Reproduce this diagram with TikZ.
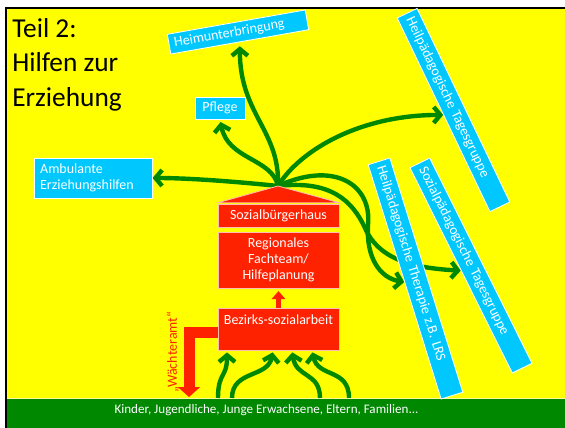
\documentclass[tikz,border=0pt]{standalone}
\usepackage{fontspec}
\setmainfont{Carlito}
\usetikzlibrary{arrows.meta}
\definecolor{slideYellow}{RGB}{255,255,0}
\definecolor{barGreen}{RGB}{0,136,0}
\definecolor{flowGreen}{RGB}{0,136,0}
\definecolor{boxBlue}{RGB}{0,200,255}
\definecolor{boxRed}{RGB}{255,34,0}
\definecolor{boxEdge}{RGB}{255,190,180}
\pgfdeclarelayer{back}
\pgfdeclarelayer{flows}
\pgfsetlayers{back,flows,main}

\begin{document}
\begin{tikzpicture}[x=0.75pt, y=-0.75pt,
    blueBox/.style={fill=boxBlue, draw=white, line width=0.6pt, text=white, font=\fontsize{10.5}{12}\selectfont, inner xsep=4pt, inner ysep=0pt, align=left},
    redBox/.style={fill=boxRed, draw=boxEdge, line width=0.6pt, text=white, font=\fontsize{10.5}{12}\selectfont, minimum width=90.75pt, inner sep=0pt, align=center},
    flow/.style={draw=flowGreen, line width=3.3pt, -{Straight Barb[length=5pt,width=12pt]}},
    upArrow/.style={draw=boxRed, line width=3.75pt, -{Triangle[length=6pt,width=10pt]}, shorten >=2pt},
    guardArrow/.style={draw=boxRed, line width=8.25pt, line join=miter, -{Triangle[length=7.5pt,width=16.5pt]}}]
  \useasboundingbox (0,0) rectangle (565,428);
  \begin{pgfonlayer}{back}
    \fill[white] (0,0) rectangle (565,428);
    \fill[slideYellow] (7,8) rectangle (565,398);
    \fill[barGreen] (7,398) rectangle (565,428);
    \draw[white!60!yellow, line width=0.5pt] (7,398) -- (565,398);
    \draw[black, line width=2pt] (6,428) -- (6,8) -- (565,8);
  \end{pgfonlayer}

  \node[anchor=north west, align=left, inner sep=0pt, font=\fontsize{20.5}{26}\selectfont] (title) at (12,18) {Teil 2:\\Hilfen zur\\Erziehung};
  \node[text=white, font=\fontsize{9.8}{11}\selectfont] (kinder) at (266.5,410) {Kinder, Jugendliche, Junge Erwachsene, Eltern, Familien...};

  \node[blueBox, text width=97pt, minimum height=15pt, rotate=10] (heim) at (238,32) {Heimunterbringung};
  \node[blueBox, minimum width=37.5pt, minimum height=16.5pt, inner xsep=0pt, align=center] (pflege) at (220,108) {Pflege};
  \node[blueBox, text width=80pt, minimum height=30pt] (ambulant) at (93.5,178) {Ambulante\\Erziehungshilfen};
  \node[blueBox, text width=153pt, minimum height=16.5pt, rotate=-64.4] (hptg) at (453.5,110) {Heilpädagogische Tagesgruppe};
  \node[blueBox, text width=176pt, minimum height=17pt, rotate=-72.7] (hpth) at (415.5,278.5) {Heilpädagogische Therapie z.B. LRS};
  \node[blueBox, text width=164pt, minimum height=16.5pt, rotate=-63.5] (sptg) at (471,265.5) {Sozialpädagogische Tagesgruppe};

  \node[redBox, minimum height=17.25pt] (sbh) at (278.5,215.5) {Sozialbürgerhaus};
  \node[redBox, minimum height=42pt] (regional) at (278.5,260) {Regionales\\Fachteam/\\Hilfeplanung};
  \node[redBox, inner ysep=4pt, text height=8.75pt, text depth=14.75pt] (bezirks) at (278.5,329) {Bezirks-sozialarbeit};
  \coordinate (apex) at (278,186);
  \filldraw[fill=boxRed, draw=boxEdge, line width=0.6pt] ([yshift=0.6pt]sbh.north west) -- (apex) -- ([yshift=0.6pt]sbh.north east) -- cycle;

  \node[text=boxRed, rotate=90, font=\fontsize{10.5}{12}\selectfont] (waechter) at (173,352) {„Wächteramt“};
  \coordinate (guardEnd) at (189,397);
  \coordinate (k1) at (218,398);
  \coordinate (k2) at (232,398);
  \coordinate (k3) at (320,398);
  \coordinate (k4) at (349,398);

  \begin{pgfonlayer}{flows}
    \draw[flow, shorten >=3pt] (apex) .. controls (280,130) and (240,115) .. (heim.south);
    \draw[flow, shorten >=2pt] (apex) .. controls (272,158) and (228,160) .. (pflege.south);
    \draw[flow] (apex) .. controls (240,182) and (190,178) .. (ambulant.east);
    \draw[flow] (apex) .. controls (300,150) and (360,115) .. (hptg.south);
    \draw[flow] (apex) .. controls (335,160) and (372,185) .. (368,225) .. controls (366,258) and (380,278) .. (hpth.south);
    \draw[flow] (apex) .. controls (330,180) and (352,200) .. (365,228) .. controls (378,258) and (410,268) .. (sptg.south);
    \draw[flow, shorten >=1.5pt] (k1) .. controls (218,372) and (227,378) .. ([shift={(-51.5,0)}]bezirks.south);
    \draw[flow, shorten >=1.5pt] (k2) .. controls (232,370) and (268,378) .. ([shift={(-5.5,0)}]bezirks.south);
    \draw[flow, shorten >=1.5pt] (k3) .. controls (320,372) and (296,378) .. ([shift={(13.5,0)}]bezirks.south);
    \draw[flow, shorten >=1.5pt] (k4) .. controls (349,368) and (318,378) .. ([shift={(33.5,0)}]bezirks.south);
    \draw[upArrow] (bezirks.north) -- (regional.south);
    \draw[guardArrow] ([shift={(0,3.5)}]bezirks.west) -| (guardEnd);
  \end{pgfonlayer}
\end{tikzpicture}
\end{document}
